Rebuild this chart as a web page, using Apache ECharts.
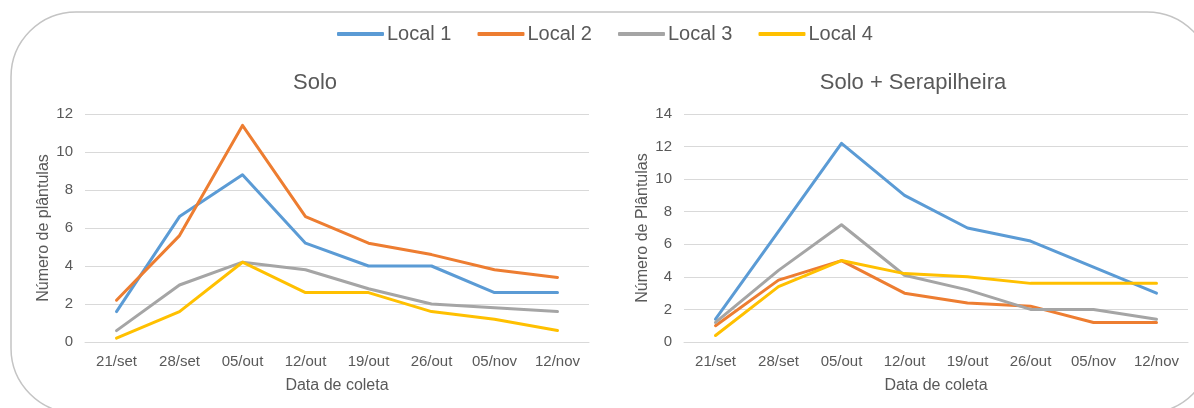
<!DOCTYPE html>
<html>
<head>
<meta charset="utf-8">
<script src="https://cdn.jsdelivr.net/npm/echarts@6/dist/echarts.min.js"></script>
<style>
html,body{margin:0;padding:0;background:#fff;}
#chart{width:1194px;height:408px;}
</style>
</head>
<body>
<div id="chart"></div>
<script>
const categories = ['21/set','28/set','05/out','12/out','19/out','26/out','05/nov','12/nov'];
const seriesNames = ['Local 1','Local 2','Local 3','Local 4'];
const soloLocal1 = [1.6, 6.6, 8.8, 5.2, 4.0, 4.0, 2.6, 2.6];
const soloLocal2 = [2.2, 5.6, 11.4, 6.6, 5.2, 4.6, 3.8, 3.4];
const soloLocal3 = [0.6, 3.0, 4.2, 3.8, 2.8, 2.0, 1.8, 1.6];
const soloLocal4 = [0.2, 1.6, 4.2, 2.6, 2.6, 1.6, 1.2, 0.6];
const serLocal1 = [1.4, 6.8, 12.2, 9.0, 7.0, 6.2, 4.6, 3.0];
const serLocal2 = [1.0, 3.8, 5.0, 3.0, 2.4, 2.2, 1.2, 1.2];
const serLocal3 = [1.2, 4.4, 7.2, 4.1, 3.2, 2.0, 2.0, 1.4];
const serLocal4 = [0.4, 3.4, 5.0, 4.2, 4.0, 3.6, 3.6, 3.6];
const titles = ['Solo', 'Solo + Serapilheira'];
const yNames = ['Número de plântulas', 'Número de Plântulas'];
const xName = 'Data de coleta';

const colors = ['#5B9BD5', '#ED7D31', '#A5A5A5', '#FFC000'];
const font = '"Liberation Sans", Arial, sans-serif';
const textColor = '#595959';
const gridColor = '#D9D9D9';

const chart = echarts.init(document.getElementById('chart'), null, {renderer: 'canvas'});

function xAxis(gi) {
  return {
    type: 'category', gridIndex: gi, data: categories, boundaryGap: true,
    name: xName, nameLocation: 'middle', nameGap: 36,
    nameTextStyle: {fontFamily: font, fontSize: 16, color: textColor},
    axisLine: {show: true, lineStyle: {color: gridColor, width: 1}},
    axisTick: {show: false},
    axisLabel: {fontFamily: font, fontSize: 15, color: textColor, margin: 12, interval: 0}
  };
}
function yAxis(gi, max, name) {
  return {
    type: 'value', gridIndex: gi, min: 0, max: max, interval: 2,
    name: name, nameLocation: 'middle', nameGap: 33,
    nameTextStyle: {fontFamily: font, fontSize: 16, color: textColor},
    axisLine: {show: false}, axisTick: {show: false},
    splitLine: {show: true, lineStyle: {color: gridColor, width: 1}},
    axisLabel: {fontFamily: font, fontSize: 15, color: textColor, margin: 12}
  };
}
const soloData = [soloLocal1, soloLocal2, soloLocal3, soloLocal4];
const serData = [serLocal1, serLocal2, serLocal3, serLocal4];
const series = [];
[soloData, serData].forEach((set, gi) => {
  set.forEach((d, i) => {
    series.push({
      type: 'line', name: seriesNames[i], xAxisIndex: gi, yAxisIndex: gi,
      data: d, symbol: 'none', showSymbol: false,
      lineStyle: {color: colors[i], width: 3, cap: 'round', join: 'round'},
      itemStyle: {color: colors[i]},
      emphasis: {disabled: true}, animation: false
    });
  });
});

chart.setOption({
  animation: false,
  graphic: [{
    type: 'rect', z: -10, silent: true,
    shape: {x: 11, y: 12, width: 1201, height: 401, r: 65},
    style: {fill: 'none', stroke: '#C4C4C4', lineWidth: 1.5}
  }],
  title: [
    {text: titles[0], left: 310, top: 67, textAlign: 'center',
     textStyle: {fontFamily: font, fontSize: 22, fontWeight: 'normal', color: textColor}},
    {text: titles[1], left: 908, top: 67, textAlign: 'center',
     textStyle: {fontFamily: font, fontSize: 22, fontWeight: 'normal', color: textColor}}
  ],
  legend: {
    data: seriesNames, left: 332, top: 19, icon: 'roundRect',
    itemWidth: 47, itemHeight: 4, itemGap: 26,
    textStyle: {fontFamily: font, fontSize: 20, color: textColor, padding: [0,0,0,-2]}
  },
  grid: [
    {left: 85, right: 1194 - 589, top: 114, bottom: 408 - 342, containLabel: false},
    {left: 684, right: 1194 - 1188, top: 114, bottom: 408 - 342, containLabel: false}
  ],
  xAxis: [xAxis(0), xAxis(1)],
  yAxis: [yAxis(0, 12, yNames[0]), yAxis(1, 14, yNames[1])],
  series: series
});
</script>
</body>
</html>
